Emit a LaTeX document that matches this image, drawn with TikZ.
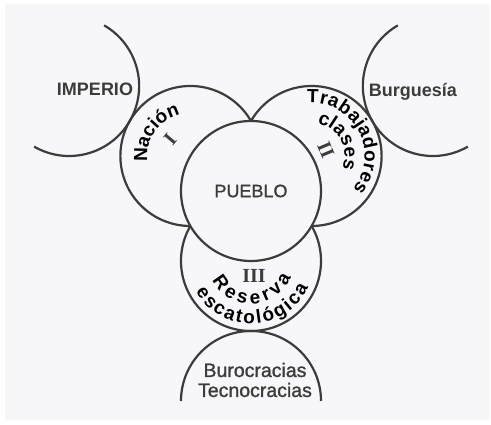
\documentclass[tikz,border=0pt]{standalone}
\usepackage{fontspec}
\setmainfont{Liberation Sans}
\newfontfamily\numfont{Liberation Serif}
\newfontfamily\curvefont[Scale=1.9]{Liberation Sans}
\newfontfamily\medfont[FakeBold=1.2]{Liberation Sans}
\usetikzlibrary{decorations.text}
\definecolor{ink}{HTML}{3C3C3C}
\definecolor{paper}{HTML}{F7F7F9}
\tikzset{
    ring/.style={circle, draw=ink, line width=2.2pt, minimum size=140pt, inner sep=0pt, outer sep=0pt},
    halfring/.style={draw=ink, line width=2.2pt},
    curved/.style={decorate, decoration={text along path, text align=fit to path, text={|\curvefont\bfseries|#1}}},
    numeral/.style={font=\numfont\fontsize{20}{20}\selectfont\bfseries},
    bigbold/.style={font=\fontsize{18}{18}\selectfont\bfseries, inner sep=0pt},
}

\begin{document}
\begin{tikzpicture}[x=1pt, y=1pt, color=ink]
        \useasboundingbox (-251,191) rectangle (240,-234);
        \fill[paper] (-246,187) rectangle (239,-229);
        \node[ring] (nacion) at (150:70) {};
        \node[ring] (clases) at (30:70) {};
        \node[ring] (reserva) at (270:70) {};
        \node[ring, fill=paper, font=\medfont\fontsize{18}{18}\selectfont] (pueblo) at (0,0) {PUEBLO};
        \coordinate (imperio) at (150:210);
        \coordinate (burguesia) at (30:210);
        \coordinate (burocracia) at (270:210);
        \draw[halfring] (imperio) ++(60:70) arc[start angle=60, end angle=-120, radius=70];
        \draw[halfring] (burguesia) ++(120:70) arc[start angle=120, end angle=300, radius=70];
        \draw[halfring] (burocracia) ++(0:70) arc[start angle=0, end angle=180, radius=70];
        \node[bigbold, anchor=base] (imperiolabel) at (-156,95) {IMPERIO};
        \node[bigbold, anchor=base] (burguesialabel) at (162,94) {Burguesía};
        \node[align=center, font=\medfont\fontsize{19.5}{20}\selectfont, inner sep=0pt] (burocracialabel) at (4,-189) {Burocracias\\Tecnocracias};
        \path[curved={Nación}] (nacion.center) ++(188:43) arc[start angle=188, end angle=104, radius=43];
        \path[curved={Trabajadores}] (clases.center) ++(95:53) arc[start angle=95, end angle=-39, radius=53];
        \path[curved={clases}] (clases.center) ++(80:33) arc[start angle=80, end angle=-22, radius=33];
        \path[curved={Reserva}] (reserva.center) ++(206:43) arc[start angle=206, end angle=338, radius=43];
        \path[curved={escatológica}] (reserva.center) ++(209:63) arc[start angle=209, end angle=335, radius=63];
        \node[numeral, rotate=50] (uno) at (-81,52) {I};
        \node[numeral, rotate=-67] (dos) at (75,41) {II};
        \node[numeral] (tres) at (3,-85) {III};
    \end{tikzpicture}
\end{document}
